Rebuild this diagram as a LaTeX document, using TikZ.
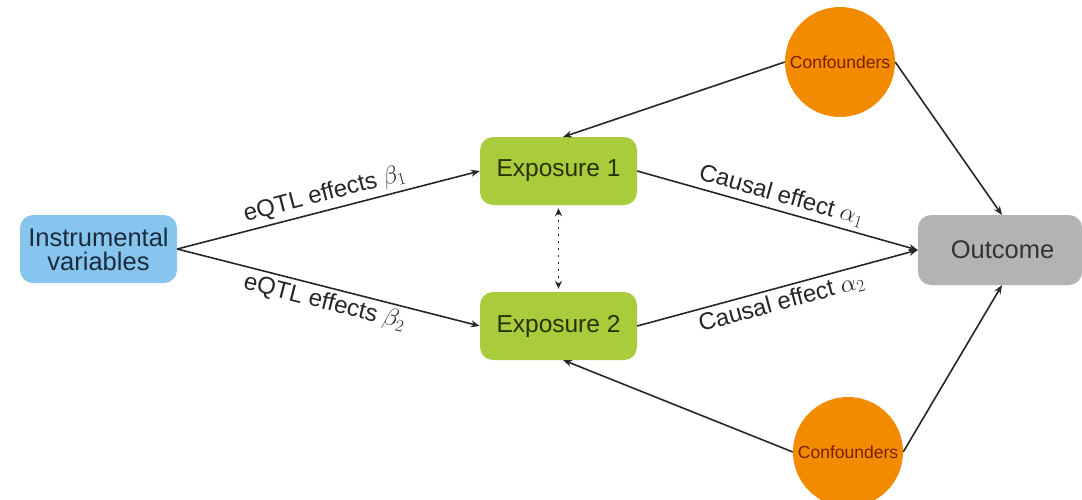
\documentclass[tikz,border=0pt]{standalone}
\usepackage{fontspec}
\setmainfont{Liberation Sans}
\usetikzlibrary{arrows.meta}
\definecolor{ivblue}{HTML}{86C5EE}
\definecolor{expgreen}{HTML}{A9CC3C}
\definecolor{outgray}{HTML}{B3B3B3}
\definecolor{confor}{HTML}{F28B00}
\definecolor{ivtext}{HTML}{1C2B3C}
\definecolor{exptext}{HTML}{2A3000}
\definecolor{conftext}{HTML}{7A1E00}
\begin{document}
\begin{tikzpicture}[x=1pt,y=-1pt,
  boxbase/.style={rounded corners=13pt, inner sep=0pt, align=center},
  ivbox/.style={boxbase, fill=ivblue, text=ivtext, minimum width=157pt, minimum height=68pt, font=\fontsize{25.5}{27}\selectfont},
  expbox/.style={boxbase, fill=expgreen, text=exptext, minimum width=157pt, minimum height=68pt, font=\fontsize{24.5}{27}\selectfont},
  outbox/.style={boxbase, fill=outgray, text=black!80, minimum width=164pt, minimum height=70pt, font=\fontsize{25.5}{27}\selectfont},
  confcirc/.style={circle, fill=confor, text=conftext, minimum size=110pt, inner sep=0pt, font=\fontsize{17.5}{19}\selectfont},
  conn/.style={draw=black!85, line width=1.6pt, -{Stealth[length=9pt,width=7pt]}},
  lbl/.style={font=\fontsize{24}{26}\selectfont, text=black!85, sloped, inner sep=4pt}
]
\useasboundingbox (0,0) rectangle (1082,499);
\node[ivbox] (iv) at (98.5,249) {Instrumental\\[-3pt]variables};
\node[expbox] (e1) at (558.5,171) {Exposure 1};
\node[expbox] (e2) at (558.5,326) {Exposure 2};
\node[outbox] (out) at (1000,250) {\hspace*{5pt}Outcome};
\node[confcirc] (c1) at (840,62) {Confounders};
\node[confcirc] (c2) at (848,452) {Confounders};
\coordinate (e1t) at (563,137);
\coordinate (e2b) at (563,360);
\coordinate (ot) at (1002,215);
\coordinate (ob) at (1002,285);

\draw[conn] (iv.east) -- node[lbl, above] {eQTL effects $\beta_1$} (e1.west);
\draw[conn] (iv.east) -- node[lbl, below] {eQTL effects $\beta_2$} (e2.west);
\draw[conn] (e1.east) -- node[lbl, above] {Causal effect $\alpha_1$} (out.west);
\draw[conn] (e2.east) -- node[lbl, below] {Causal effect $\alpha_2$} (out.west);
\draw[conn] (c1.west) -- (e1t);
\draw[conn] (c1.east) -- (ot);
\draw[conn] (c2.west) -- (e2b);
\draw[conn] (c2.east) -- (ob);
\draw[draw=black!85, line width=1.6pt, dash pattern=on 2pt off 5pt, {Stealth[length=8pt,width=7pt]}-{Stealth[length=8pt,width=7pt]}] ([yshift=-3pt]e1.south) -- ([yshift=3pt]e2.north);
\end{tikzpicture}
\end{document}
